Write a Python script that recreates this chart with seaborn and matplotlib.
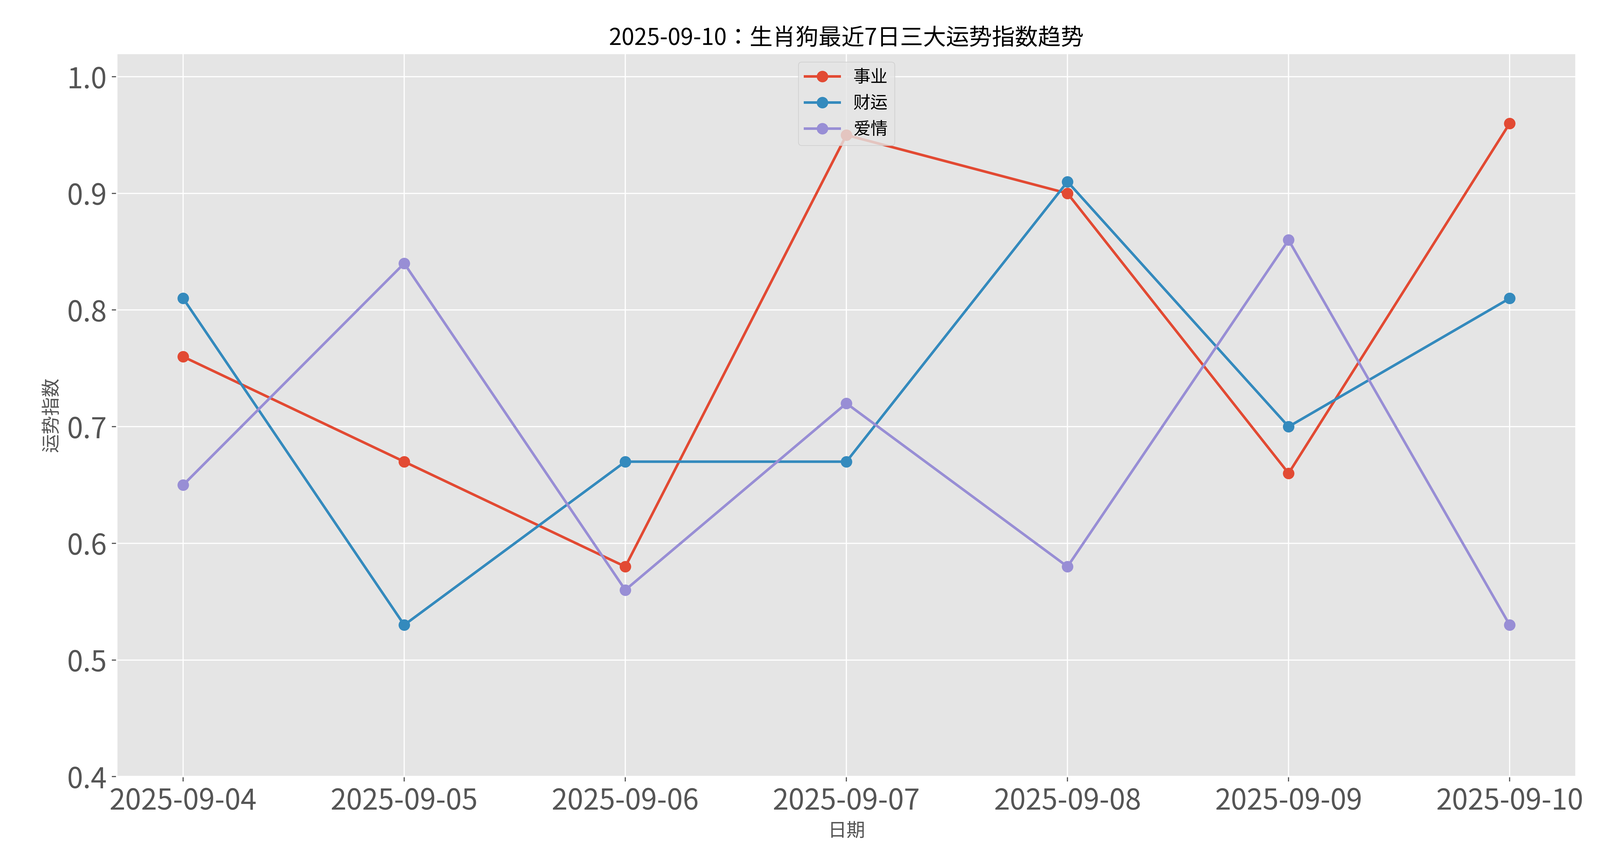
import pandas as pd
import matplotlib
matplotlib.use("Agg")
import matplotlib.pyplot as plt
from matplotlib import font_manager
import seaborn as sns

plt.style.use("ggplot")

# 找一个可用的中文字体
cjk_name = None
for f in font_manager.findSystemFonts():
    if "CJK" in f and ("Regular" in f or "CJK" in f):
        try:
            font_manager.fontManager.addfont(f)
            name = font_manager.FontProperties(fname=f).get_name()
            if cjk_name is None or "SC" in name:
                cjk_name = name
        except Exception:
            pass
plt.rcParams["font.family"] = [cjk_name or "Noto Sans CJK SC", "DejaVu Sans"]
plt.rcParams["axes.unicode_minus"] = False

dates = ["2025-09-04", "2025-09-05", "2025-09-06", "2025-09-07",
         "2025-09-08", "2025-09-09", "2025-09-10"]
career = [0.76, 0.67, 0.58, 0.95, 0.90, 0.66, 0.96]
wealth = [0.81, 0.53, 0.67, 0.67, 0.91, 0.70, 0.81]
love = [0.65, 0.84, 0.56, 0.72, 0.58, 0.86, 0.53]
series_names = ["事业", "财运", "爱情"]

df = pd.DataFrame({"日期": dates, "事业": career, "财运": wealth, "爱情": love})
long_df = df.melt(id_vars="日期", var_name="类型", value_name="指数")

fig, ax = plt.subplots(figsize=(6195 / 400, 3334 / 400), dpi=400)
colors = ["#E24A33", "#348ABD", "#988ED5"]
sns.lineplot(data=long_df, x="日期", y="指数", hue="类型",
             hue_order=series_names, palette=colors, marker="o",
             markersize=8, markeredgewidth=0, linewidth=1.8, ax=ax)

ax.set_ylim(0.4, 1.02)
ax.set_title("2025-09-10：生肖狗最近7日三大运势指数趋势", fontsize=16)
ax.set_xlabel("日期", fontsize=13)
ax.set_ylabel("运势指数", fontsize=13)
ax.tick_params(axis="both", labelsize=20)
ax.legend(loc="upper center", fontsize=12, title=None)

fig.subplots_adjust(left=0.073, right=0.985, top=0.938, bottom=0.098)
plt.savefig("out.png", dpi=400)
